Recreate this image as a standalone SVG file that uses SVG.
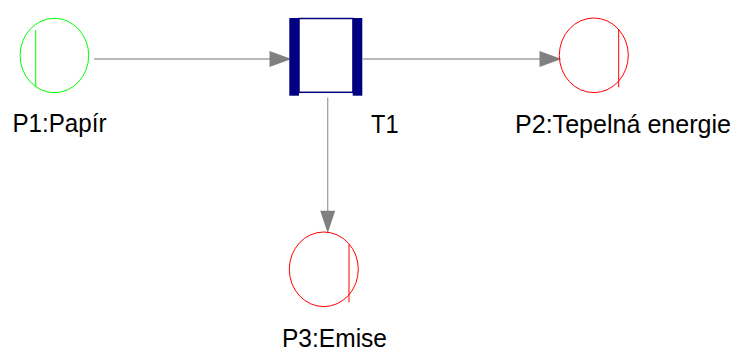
<svg xmlns="http://www.w3.org/2000/svg" width="737" height="349" viewBox="0 0 737 349">
<style>
.lbl{font-family:"Liberation Sans",Arial,sans-serif;font-size:26px;fill:#000}
.conn{stroke:#a0a0a0;stroke-width:1.3;fill:none}
.head{fill:#808080;stroke:none}
.pg{fill:none;stroke:#00ff00;stroke-width:1}
.pr{fill:none;stroke:#ff0000;stroke-width:1}
.bar{fill:#000080}
.tbox{fill:#fff;stroke:#000080;stroke-width:1.5}
</style>
<rect width="737" height="349" fill="#fff"/>
<g id="connectors">
<line class="conn" x1="94" y1="59" x2="271" y2="59"/>
<polygon class="head" points="269.5,51 291.5,59 269.5,67"/>
<line class="conn" x1="363" y1="59" x2="540" y2="59"/>
<polygon class="head" points="539.5,51 561.5,59 539.5,67"/>
<line class="conn" x1="327.7" y1="97.5" x2="327.7" y2="212"/>
<polygon class="head" points="320.2,210.7 335.2,210.7 327.7,233.3"/>
</g>
<g id="P1">
<ellipse class="pg" cx="54.4" cy="55.5" rx="34.3" ry="37.2"/>
<line class="pg" x1="35.7" y1="30" x2="35.7" y2="87"/>
<text class="lbl" x="12.5" y="132" textLength="94" lengthAdjust="spacingAndGlyphs">P1:Papír</text>
</g>
<g id="T1">
<rect class="tbox" x="299" y="18.5" width="54" height="73.8"/>
<rect class="bar" x="289.3" y="18" width="9.7" height="77.7"/>
<rect class="bar" x="352.7" y="18" width="9.6" height="77.7"/>
<text class="lbl" x="371" y="133" textLength="27.5" lengthAdjust="spacingAndGlyphs">T1</text>
</g>
<g id="P2">
<ellipse class="pr" cx="593.8" cy="55.3" rx="34.5" ry="37.3"/>
<line class="pr" x1="618.7" y1="29.3" x2="618.7" y2="87.3"/>
<text class="lbl" x="515" y="133" textLength="216" lengthAdjust="spacingAndGlyphs">P2:Tepelná energie</text>
</g>
<g id="P3">
<ellipse class="pr" cx="323.8" cy="269.3" rx="34.5" ry="37.3"/>
<line class="pr" x1="349" y1="244.3" x2="349" y2="302.3"/>
<text class="lbl" x="282" y="346.5" textLength="105" lengthAdjust="spacingAndGlyphs">P3:Emise</text>
</g>
</svg>
